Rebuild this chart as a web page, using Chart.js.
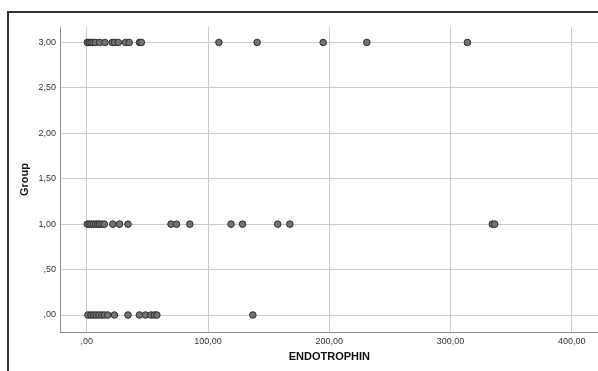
<!DOCTYPE html>
<html>
<head>
<meta charset="utf-8">
<script src="https://cdn.jsdelivr.net/npm/chart.js@4.4.1/dist/chart.umd.min.js"></script>
<style>
  html, body { margin: 0; padding: 0; background: #fff; overflow: hidden; }
  #wrap { position: relative; width: 598px; height: 371px; overflow: hidden; }
  #frame { position: absolute; left: 7px; top: 11px; width: 700px; height: 500px;
           border-left: 2px solid #333; border-top: 2px solid #333; box-sizing: border-box; }
  canvas { position: absolute; left: 0; top: 0; }
</style>
</head>
<body>
<div id="wrap">
  <div id="frame"></div>
  <canvas id="scatter" width="603" height="371"></canvas>
</div>
<script>
// ENDOTROPHIN values, per group
const group3 = [0.5, 2, 3.5, 5, 7, 10.5, 15, 21, 23, 26, 32, 35, 43.5, 45, 109, 140.5, 195, 231, 314];
const group1 = [0.5, 2, 3.5, 5.5, 7.5, 9, 10.5, 12.5, 14.5, 21.5, 27, 34, 69.5, 74, 85, 119, 128.5, 157.5, 167.5, 334.5, 336.5];
const group0 = [1, 3.5, 5.5, 7.7, 10, 12.4, 14.5, 17.3, 22.8, 34, 43.4, 48.4, 53, 55.8, 57.8, 137];
const groupLevels = [3, 1, 0];

const xTicks = [0, 100, 200, 300, 400];
const yTicks = [0, 0.5, 1, 1.5, 2, 2.5, 3];

// SPSS style numbers: comma decimal, no leading zero
const fmt = (v) => {
  let s = v.toFixed(2).replace('.', ',');
  if (s.startsWith('0,')) s = s.slice(1);
  return s;
};

const points = [];
[group3, group1, group0].forEach((vals, i) => {
  vals.forEach(v => points.push({ x: v, y: groupLevels[i] }));
});

const ctx = document.getElementById('scatter');
new Chart(ctx, {
  type: 'scatter',
  data: {
    datasets: [{
      data: points,
      pointRadius: 3.3,
      pointHoverRadius: 3.3,
      backgroundColor: '#727272',
      borderColor: '#2e2e2e',
      borderWidth: 1
    }]
  },
  options: {
    responsive: false,
    animation: false,
    devicePixelRatio: 1,
    layout: { padding: { top: 27, left: 0, right: 0, bottom: 0 } },
    plugins: { legend: { display: false }, tooltip: { enabled: false } },
    scales: {
      x: {
        type: 'linear',
        min: -22.1,
        max: 422.3,
        afterBuildTicks: (scale) => { scale.ticks = xTicks.map(v => ({ value: v })); },
        afterFit: (scale) => { scale.height = 39; },
        grid: { color: '#cccccc', lineWidth: 1, drawTicks: false },
        border: { color: '#8c8c8c', width: 1 },
        ticks: {
          padding: 4,
          maxRotation: 0,
          autoSkip: false,
          color: '#333',
          font: { family: 'Liberation Sans', size: 9 },
          callback: (v) => fmt(v)
        },
        title: {
          display: true,
          text: 'ENDOTROPHIN',
          color: '#111',
          font: { family: 'Liberation Sans', size: 11, weight: 'bold' },
          padding: { top: 0, bottom: 7 }
        }
      },
      y: {
        type: 'linear',
        min: -0.187,
        max: 3.17,
        afterBuildTicks: (scale) => { scale.ticks = yTicks.map(v => ({ value: v })); },
        afterFit: (scale) => { scale.width = 60; },
        grid: { color: '#cccccc', lineWidth: 1, drawTicks: false },
        border: { color: '#8c8c8c', width: 1 },
        ticks: {
          padding: 4,
          autoSkip: false,
          color: '#333',
          font: { family: 'Liberation Sans', size: 9 },
          callback: (v) => fmt(v)
        },
        title: {
          display: true,
          text: 'Group',
          color: '#111',
          font: { family: 'Liberation Sans', size: 11, weight: 'bold' },
          padding: { top: 18, bottom: 0 }
        }
      }
    }
  }
});
</script>
</body>
</html>
